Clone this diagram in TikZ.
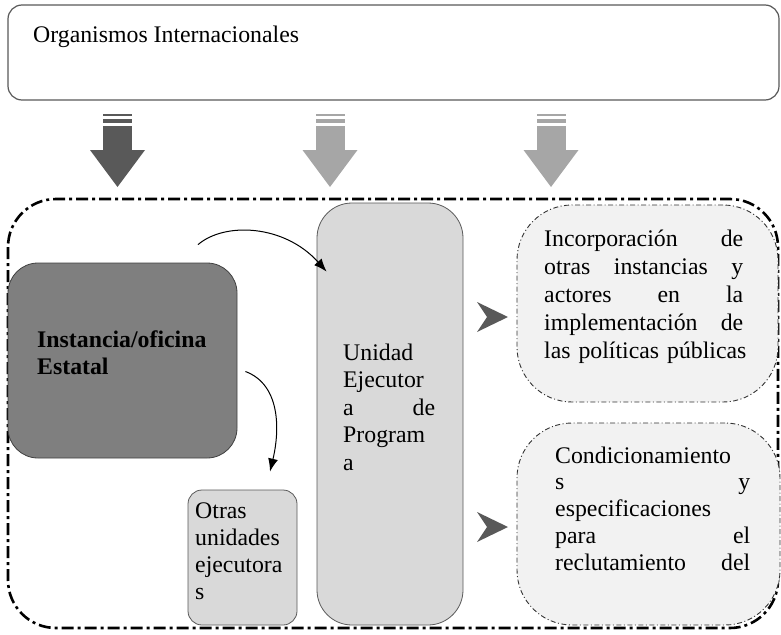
\documentclass[tikz,border=0pt]{standalone}
\usepackage{fontspec}
\setmainfont{Liberation Serif}
\usetikzlibrary{%
    arrows.meta,%
    calc%
}

\definecolor{darkarrow}{HTML}{595959}
\definecolor{lightarrow}{HTML}{A6A6A6}
\definecolor{statefill}{HTML}{7F7F7F}
\definecolor{unitfill}{HTML}{D9D9D9}
\definecolor{cloudfill}{HTML}{F2F2F2}

\tikzset{
    orgbox/.style={draw=black!65, line width=1.2pt, fill=white, rounded corners=14pt},
    statebox/.style={draw=black!75, line width=0.8pt, fill=statefill, rounded corners=30pt},
    unitbox/.style={draw=black!65, line width=0.8pt, fill=unitfill, rounded corners=35pt},
    otherbox/.style={draw=black!65, line width=0.8pt, fill=unitfill, rounded corners=14pt},
    cloudbox/.style={draw=black!80, line width=0.9pt, fill=cloudfill, rounded corners=55pt,
        dash pattern=on 5pt off 2.5pt on 1pt off 2.5pt},
    frameline/.style={black, line width=2.6pt, rounded corners=48pt,
        dash pattern=on 12pt off 4pt on 3pt off 4pt},
    txt/.style={inner sep=0pt, anchor=base west, align=left},
    flow/.style={black, line width=1pt, -{Latex[length=13pt,width=10pt]}}
}

\begin{document}
\begin{tikzpicture}[x=1pt, y=-1pt, font=\fontsize{23.8}{27.6}\selectfont]
				\useasboundingbox (0,0) rectangle (781,634);

				% top box
				\node[orgbox, minimum width=771pt, minimum height=95pt] (orgs) at (393.5,52.5) {};
				\node[txt] (orgstext) at (33,43) {Organismos Internacionales};

				% block arrows
				\foreach \cx/\shade in {117.5/darkarrow, 330/lightarrow, 551/lightarrow}{
					\fill[\shade] (\cx-14.5,114) rectangle (\cx+14.5,115.5);
					\fill[\shade] (\cx-14.5,119) rectangle (\cx+14.5,123);
					\fill[\shade] (\cx-14.5,126) rectangle (\cx+14.5,150.5);
					\fill[\shade] (\cx-27.5,150) -- (\cx+27.5,150) -- (\cx,187) -- cycle;
				}

				% dash-dot frame
				\draw[frameline] (8,199) rectangle (778,628);

				\node[statebox, minimum width=229pt, minimum height=195pt] (state) at (122.5,360.5) {};
				\node[txt, text width=190pt, font=\fontsize{23.8}{27.6}\selectfont\bfseries] (statetext) at (37,347) {Instancia/oficina\\Estatal};

				\node[unitbox, minimum width=146pt, minimum height=422pt] (unit) at (390,414) {};
				\node[txt, text width=92pt] (unittext) at (343,360) {Unidad\\Ejecutor\\a \hfill de\\Program\\a};

				\node[otherbox, minimum width=109pt, minimum height=135pt] (others) at (242.5,557.5) {};
				\node[txt, text width=95pt, font=\fontsize{23.8}{27}\selectfont] (otherstext) at (195,518) {Otras\\unidades\\ejecutora\\s};

				\node[cloudbox, minimum width=261pt, minimum height=197pt] (incorp) at (647.5,303.5) {};
				\node[txt, text width=199pt, font=\fontsize{23.8}{28}\selectfont] (incorptext) at (544,246)
					{Incorporación \hfill de\\otras \hfill instancias \hfill y\\actores \hfill en \hfill la\\implementación \hfill de\\\mbox{las políticas públicas}};

				\node[cloudbox, minimum width=263pt, minimum height=202pt] (cond) at (648.5,524) {};
				\node[txt, text width=195pt, font=\fontsize{23.8}{26.8}\selectfont] (condtext) at (555,463)
					{Condicionamiento\\s \hfill y\\especificaciones\\para \hfill el\\reclutamiento \hfill del};

				% chevrons
				\foreach \cy in {317,527}{
					\fill[darkarrow] (477,\cy-15) -- (508,\cy) -- (477,\cy+15) -- (487,\cy) -- cycle;
				}

				% curved connectors
				\draw[flow] ([xshift=75.5pt,yshift=18pt]state.north) .. controls +(27,-23) and +(-42,-47) .. ([xshift=10pt,yshift=-69pt]unit.north west);
				\draw[flow] ([xshift=8pt,yshift=-11pt]state.east) .. controls +(35,13) and +(10,-42) .. ([xshift=27.5pt,yshift=18pt]others.north);
			\end{tikzpicture}
\end{document}
